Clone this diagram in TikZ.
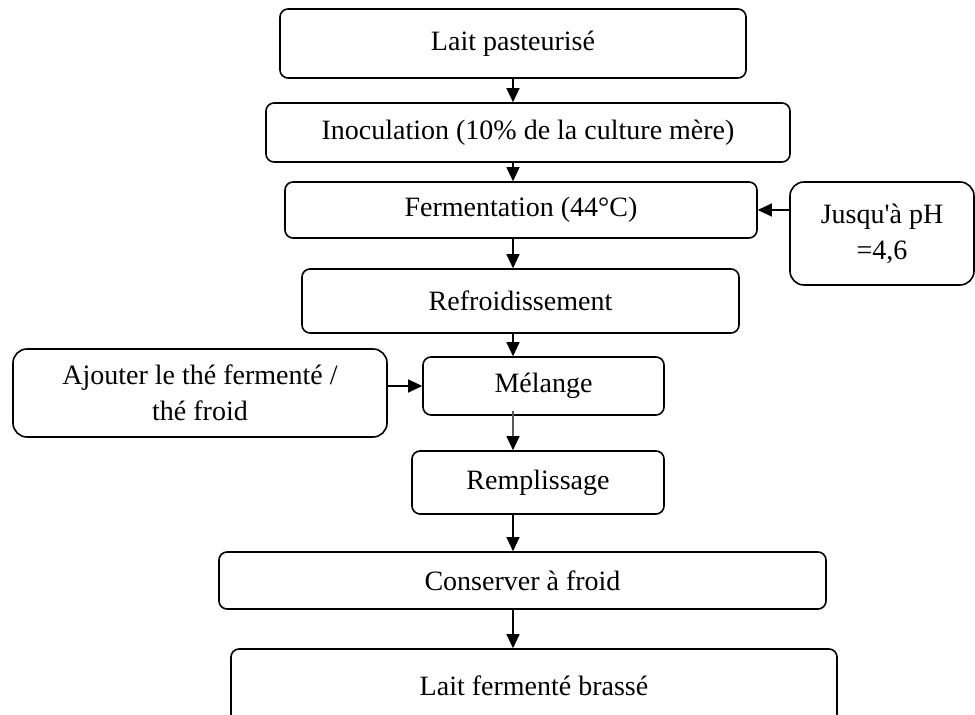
\documentclass[tikz,border=0pt]{standalone}
\usepackage{fontspec}
\setmainfont{Liberation Serif}
\usetikzlibrary{arrows.meta}

\begin{document}
\begin{tikzpicture}[x=0.5pt,y=-0.5pt,
    etape/.style={draw, line width=0.8pt, rounded corners=4pt, inner sep=0pt,
      align=center, font=\fontsize{14}{18}\selectfont},
    fleche/.style={line width=0.6pt, -{Triangle[length=7pt,width=6.5pt,black]}}]
    \useasboundingbox (0,0) rectangle (975,715);
    \node[etape, minimum width=233pt, minimum height=34.5pt] (lait) at (513,43.5) {Lait pasteuris\'e};
    \node[etape, minimum width=262pt, minimum height=29.5pt] (inoc) at (528,132.5) {Inoculation (10\% de la culture m\`ere)};
    \node[etape, minimum width=236pt, minimum height=28pt] (ferm) at (521,210) {Fermentation (44\textdegree C)};
    \node[etape, rounded corners=7pt, minimum width=92pt, minimum height=51.5pt] (ph) at (882,233.5) {Jusqu\textquotesingle\`a pH\\=4,6};
    \node[etape, minimum width=218.5pt, minimum height=32pt] (refr) at (520.5,301) {Refroidissement};
    \node[etape, rounded corners=7pt, minimum width=187pt, minimum height=44pt] (ajout) at (200,393) {Ajouter le th\'e ferment\'e /\\th\'e froid};
    \node[etape, minimum width=120.5pt, minimum height=29pt] (mel) at (543.5,386) {M\'elange};
    \node[etape, minimum width=126pt, minimum height=31.5pt] (rempl) at (538,482.5) {Remplissage};
    \node[etape, minimum width=303.5pt, minimum height=28.5pt] (cons) at (522.5,580.5) {Conserver \`a froid};
    \node[etape, minimum width=303pt, minimum height=36.5pt] (final) at (534,685.5) {Lait ferment\'e brass\'e};
    \coordinate (col) at (513,0);
    \draw[fleche] (lait.south -| col) -- (inoc.north -| col);
    \draw[fleche] (inoc.south -| col) -- (ferm.north -| col);
    \draw[fleche] (ph.west |- ferm.east) -- (ferm.east);
    \draw[fleche] (ferm.south -| col) -- (refr.north -| col);
    \draw[fleche] (refr.south -| col) -- (mel.north -| col);
    \draw[fleche] (ajout.east |- mel.west) -- (mel.west);
    \draw[fleche, black!65] ([yshift=2.5pt]mel.south -| col) -- (rempl.north -| col);
    \draw[fleche] (rempl.south -| col) -- (cons.north -| col);
    \draw[fleche] (cons.south -| col) -- (final.north -| col);
\end{tikzpicture}
\end{document}
